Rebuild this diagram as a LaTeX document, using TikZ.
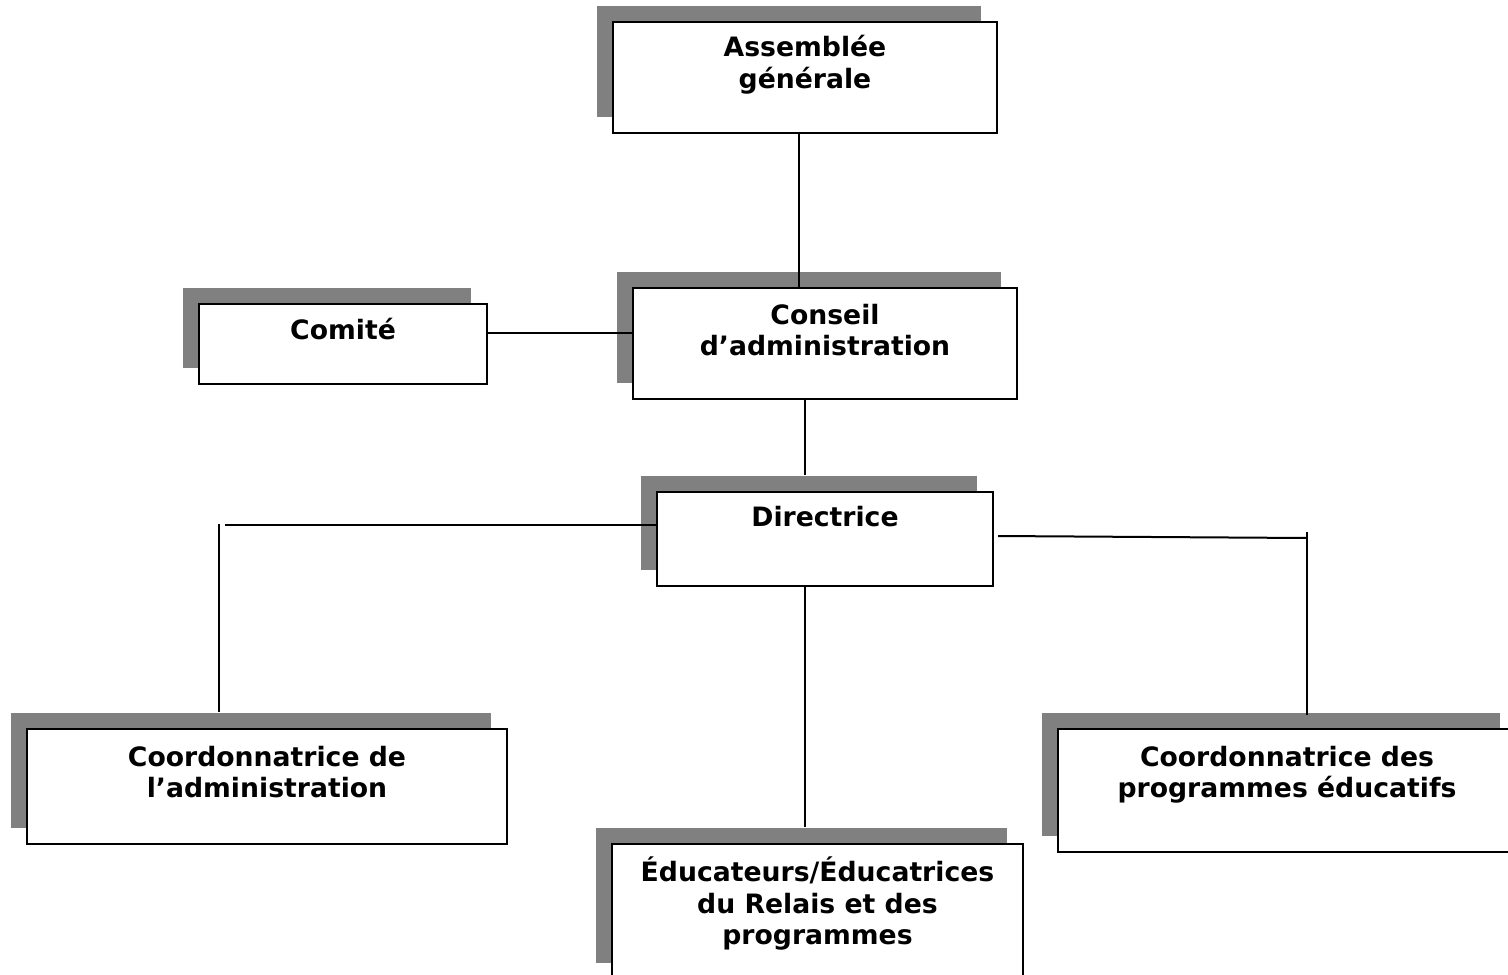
\documentclass[tikz,border=0pt]{standalone}
\usepackage{fontspec}
\setmainfont{DejaVu Sans}
\usetikzlibrary{shadows}
\definecolor{shadowgray}{RGB}{128,128,128}
\tikzset{
  orgbox/.style={draw, rectangle, fill=white, line width=1.5pt, inner sep=0pt,
    drop shadow={shadow xshift=-12pt, shadow yshift=12pt, fill=shadowgray, opacity=1}},
  orgtext/.style={anchor=base, align=center, inner sep=0pt,
    font=\fontsize{20pt}{23.5pt}\selectfont\bfseries},
  link/.style={line width=1.5pt}
}

\begin{document}
\begin{tikzpicture}[x=0.75pt, y=-0.75pt]
  \useasboundingbox (0,0) rectangle (1508,974);

  % Boxes
  \node (asm) [orgbox, minimum width=288pt, minimum height=83.25pt] at (805,77.5) {};
  \node (comite) [orgbox, minimum width=216pt, minimum height=60pt] at (343,344) {};
  \node (conseil) [orgbox, minimum width=288pt, minimum height=83.25pt] at (825,343.5) {};
  \node (dir) [orgbox, minimum width=252pt, minimum height=70.5pt] at (825,539) {};
  \node (coordadm) [orgbox, minimum width=360pt, minimum height=86.25pt] at (267,786.5) {};
  \node (educ) [orgbox, minimum width=308.25pt, minimum height=101.25pt] at (817.5,911.5) {};
  \node (coordprog) [orgbox, minimum width=343.5pt, minimum height=92.25pt] at (1287,790.5) {};

  % Texts (base = last line)
  \node (asm-t) [orgtext] at ([yshift=-50.5pt]asm.north) {Assemblée\\générale};
  \node (comite-t) [orgtext] at ([yshift=-27pt]comite.north) {Comité};
  \node (conseil-t) [orgtext] at ([yshift=-51.25pt]conseil.north) {Conseil\\d’administration};
  \node (dir-t) [orgtext] at ([yshift=-26.25pt]dir.north) {Directrice};
  \node (coordadm-t) [orgtext] at ([yshift=-52pt]coordadm.north) {Coordonnatrice de\\l’administration};
  \node (educ-t) [orgtext] at ([yshift=-76pt]educ.north) {Éducateurs/Éducatrices\\du Relais et des\\programmes};
  \node (coordprog-t) [orgtext] at ([yshift=-52pt]coordprog.north) {Coordonnatrice des\\programmes éducatifs};

  % Shadow tops and bends
  \coordinate (admShadow) at ([yshift=12pt]coordadm.north);
  \coordinate (progShadow) at ([yshift=12pt]coordprog.north);
  \coordinate (educShadow) at ([yshift=12pt]educ.north);
  \coordinate (dirL) at (225,525);
  \coordinate (admTop) at (219,524);
  \coordinate (progR) at (1307,538);
  \coordinate (progTop) at (1307,532);

  % Edges
  \draw[link] ([xshift=-4.5pt]asm.south) -- ([xshift=-4.5pt]asm.south |- conseil.north);
  \draw[link] ([yshift=8.25pt]comite.east) -- ([yshift=8.25pt]comite.east -| conseil.west);
  \draw[link] ([xshift=-15pt]conseil.south) -- ([xshift=-15pt,yshift=12pt]dir.north);
  \draw[link] ([yshift=10.5pt]dir.west) -- (dirL);
  \draw[link] (admTop) -- (admTop |- admShadow);
  \draw[link] ([xshift=3pt,yshift=2.25pt]dir.east) -- (progR);
  \draw[link] (progTop) -- ([yshift=-2pt]progTop |- progShadow);
  \draw[link] ([xshift=-15pt]dir.south) -- ([xshift=-15pt]dir.south |- educShadow);
\end{tikzpicture}
\end{document}
